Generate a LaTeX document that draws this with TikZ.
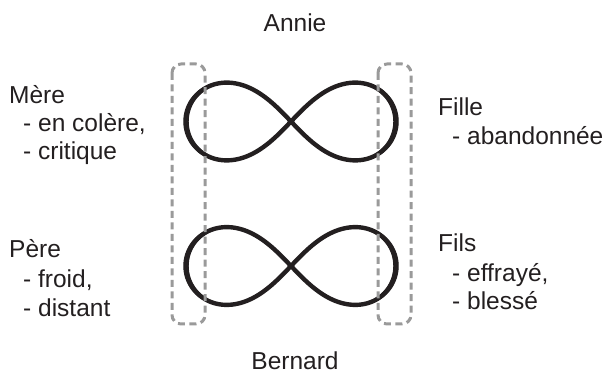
\documentclass[tikz,border=0pt]{standalone}
\usepackage{fontspec}
\setmainfont{Liberation Sans}
\begin{document}
\begin{tikzpicture}[x=1pt,y=-1pt,
  lbl/.style={anchor=base west, inner sep=0pt, font=\fontsize{24.5}{28}\selectfont, text=ink},
  personlbl/.style={anchor=base, inner sep=0pt, font=\fontsize{24.5}{28}\selectfont, text=ink},
  lem/.style={insert path={plot[domain=0:360, samples=241, variable=\t]
      ({#1*105*cos(\t)/(1+sin(\t)^2)}, {#1*110*sin(\t)*cos(\t)/(1+sin(\t)^2)}) -- cycle}},
  loopfill/.style={fill=ink, even odd rule},
  loopline/.style={draw=ink, line width=4.4pt, line join=round},
  dashbox/.style={draw=boxgray, line width=3pt, dash pattern=on 7pt off 4.5pt, rounded corners=9pt}]
\definecolor{ink}{HTML}{231F20}
\definecolor{boxgray}{HTML}{9A9A9A}
\useasboundingbox (0,0) rectangle (606,374);

% centres of the two loops
\coordinate (loopA) at (291,121.5);
\coordinate (loopB) at (291,266);

% infinity loops: a stroke plus a band that widens at the outer ends
\foreach \c in {loopA,loopB}{
  \begin{scope}[shift={(\c)}]
    \fill[loopfill] [lem=1.026] [lem=0.974];
    \path[loopline] [lem=1];
  \end{scope}
}

% dashed frames
\draw[dashbox] (172,64) rectangle (205,324);
\draw[dashbox] (378,64) rectangle (411,324);

% names
\node[personlbl] (annie) at (295,32) {Annie};
\node[personlbl] (bernard) at (295,370) {Bernard};

% left column
\node[lbl] (mere)  at (9,104) {Mère};
\node[lbl] (mere1) at (23,132) {- en colère,};
\node[lbl] (mere2) at (23,160) {- critique};
\node[lbl] (pere)  at (9,258) {Père};
\node[lbl] (pere1) at (23,288) {- froid,};
\node[lbl] (pere2) at (23,317) {- distant};

% right column
\node[lbl] (fille)  at (438,116) {Fille};
\node[lbl] (fille1) at (452,145) {- abandonnée};
\node[lbl] (fils)   at (438,252) {Fils};
\node[lbl] (fils1)  at (452,282) {- effrayé,};
\node[lbl] (fils2)  at (452,310) {- blessé};
\end{tikzpicture}
\end{document}
